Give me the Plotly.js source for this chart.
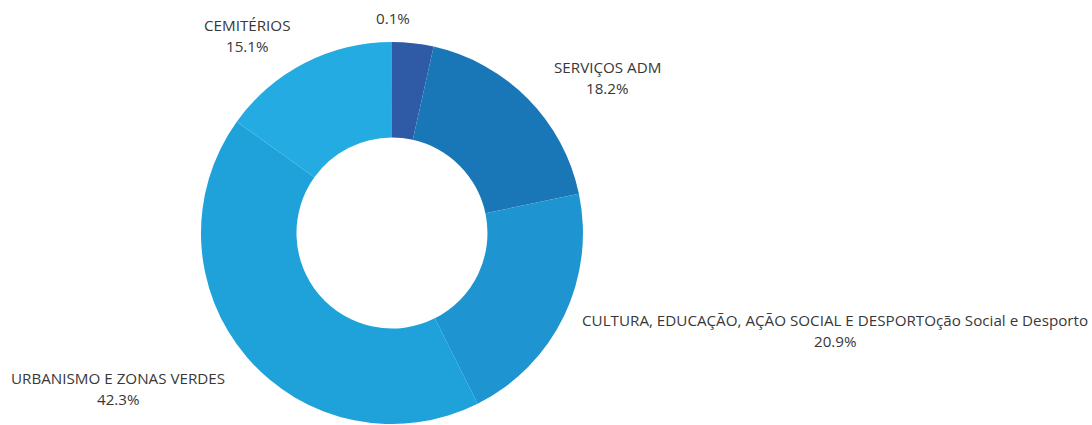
<!DOCTYPE html>
<html>
<head>
<meta charset="utf-8">
<script src="https://cdn.plot.ly/plotly-3.0.1.min.js"></script>
<style>html,body{margin:0;padding:0;background:#fff;}#chart{width:1092px;height:425px;}</style>
</head>
<body>
<div id="chart"></div>
<script>
const labels = ["", "SERVIÇOS ADM", "CULTURA, EDUCAÇÃO, AÇÃO SOCIAL E DESPORTOção Social e Desporto", "URBANISMO E ZONAS VERDES", "CEMITÉRIOS"];
const values = [3.5, 18.2, 20.9, 42.3, 15.1];
const shownPercent = ["0.1%", "18.2%", "20.9%", "42.3%", "15.1%"];
const colors = ["#2f5aa6", "#1a77b7", "#1e94d0", "#1fa2d9", "#24abe1"];

// label placement (pixel centre of the name line; percent line sits below)
const labelX = [393, 607, 835, 118, 247];
const labelY = [0, 67, 320, 378, 25];

const W = 1092, H = 425, T = 42, B = 1;
const plotH = H - T - B;
const px2x = p => p / W;
const px2y = p => (H - B - p) / plotH;
const lineGap = 21;

const annotations = [];
labels.forEach((l, i) => {
  const font = {family: "Open Sans, sans-serif", size: 15.2, color: "#383838"};
  if (l) {
    annotations.push({text: l, x: px2x(labelX[i]), y: px2y(labelY[i]), xref: "paper", yref: "paper",
      xanchor: "center", yanchor: "middle", showarrow: false, font: font});
  }
  const py = l ? labelY[i] + lineGap : 18;
  annotations.push({text: shownPercent[i], x: px2x(labelX[i]), y: px2y(py), xref: "paper", yref: "paper",
    xanchor: "center", yanchor: "middle", showarrow: false, font: font});
});

Plotly.newPlot("chart", [{
  type: "pie",
  labels: labels.map((l, i) => l || " "),
  values: values,
  textinfo: "none",
  hole: 0.5,
  sort: false,
  direction: "clockwise",
  rotation: 0,
  marker: {colors: colors, line: {width: 0}},
  domain: {x: [0, 0.7179], y: [0, 1]},
  automargin: false,
  showlegend: false
}], {
  width: W, height: H,
  margin: {l: 0, r: 0, t: T, b: B},
  paper_bgcolor: "#fff",
  showlegend: false,
  annotations: annotations
}, {displayModeBar: false, staticPlot: true});
</script>
</body>
</html>
